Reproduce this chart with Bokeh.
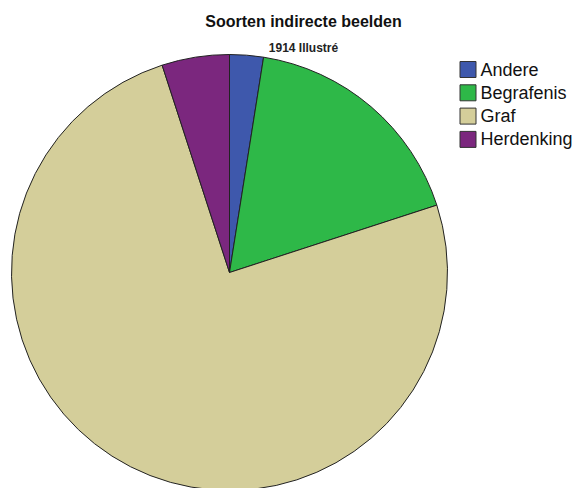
import numpy as np
from bokeh.plotting import figure
from bokeh.models import ColumnDataSource, Range1d
from bokeh.core.properties import value
from bokeh.embed import file_html
from bokeh.resources import INLINE

categories = ["Andere", "Begrafenis", "Graf", "Herdenking"]
counts = [1, 7, 30, 2]
colors = ["#3E58AC", "#2EB848", "#D4CE9A", "#7B277E"]

title = "Soorten indirecte beelden"
subtitle = "1914 Illustré"

W, H = 576, 488
p = figure(width=W, height=H, output_backend="svg", toolbar_location=None,
           x_range=Range1d(0, W), y_range=Range1d(0, H), min_border=0)
p.axis.visible = False
p.grid.visible = False
p.outline_line_color = None
p.background_fill_color = "white"
p.border_fill_color = "white"

vals = np.array(counts, dtype=float)
frac = vals / vals.sum()
cum = np.concatenate([[0], np.cumsum(frac)])
start = np.pi / 2 - cum[:-1] * 2 * np.pi
end = np.pi / 2 - cum[1:] * 2 * np.pi

cx, cy, r = 229, H - 272, 218
src = ColumnDataSource(dict(start=start, end=end, color=colors, cat=categories))
p.wedge(x=cx, y=cy, radius=r, start_angle="start", end_angle="end", direction="clock",
        fill_color="color", line_color="#222222", line_width=1, source=src)

p.text(x=[303], y=[H - 21], text=[title], text_font=value("Liberation Sans"),
       text_font_size="16px", text_font_style="bold", text_align="center",
       text_baseline="middle", text_color="#111111")
p.text(x=[303], y=[H - 47], text=[subtitle], text_font=value("Liberation Sans"),
       text_font_size="12px", text_font_style="bold", text_align="center",
       text_baseline="middle", text_color="#222222")

idx = np.arange(len(categories))
ly = H - (69 + idx * 23.3)
lsrc = ColumnDataSource(dict(y=ly, color=colors, cat=categories))
p.rect(x=467.5, y="y", width=16, height=16, fill_color="color", line_color="#333333",
       line_width=1, source=lsrc)
p.text(x=480, y="y", text="cat", text_font=value("Liberation Sans"), text_font_size="18px",
       text_baseline="middle", text_align="left", text_color="#111111", source=lsrc)

open("out.html", "w").write(file_html(p, INLINE))
